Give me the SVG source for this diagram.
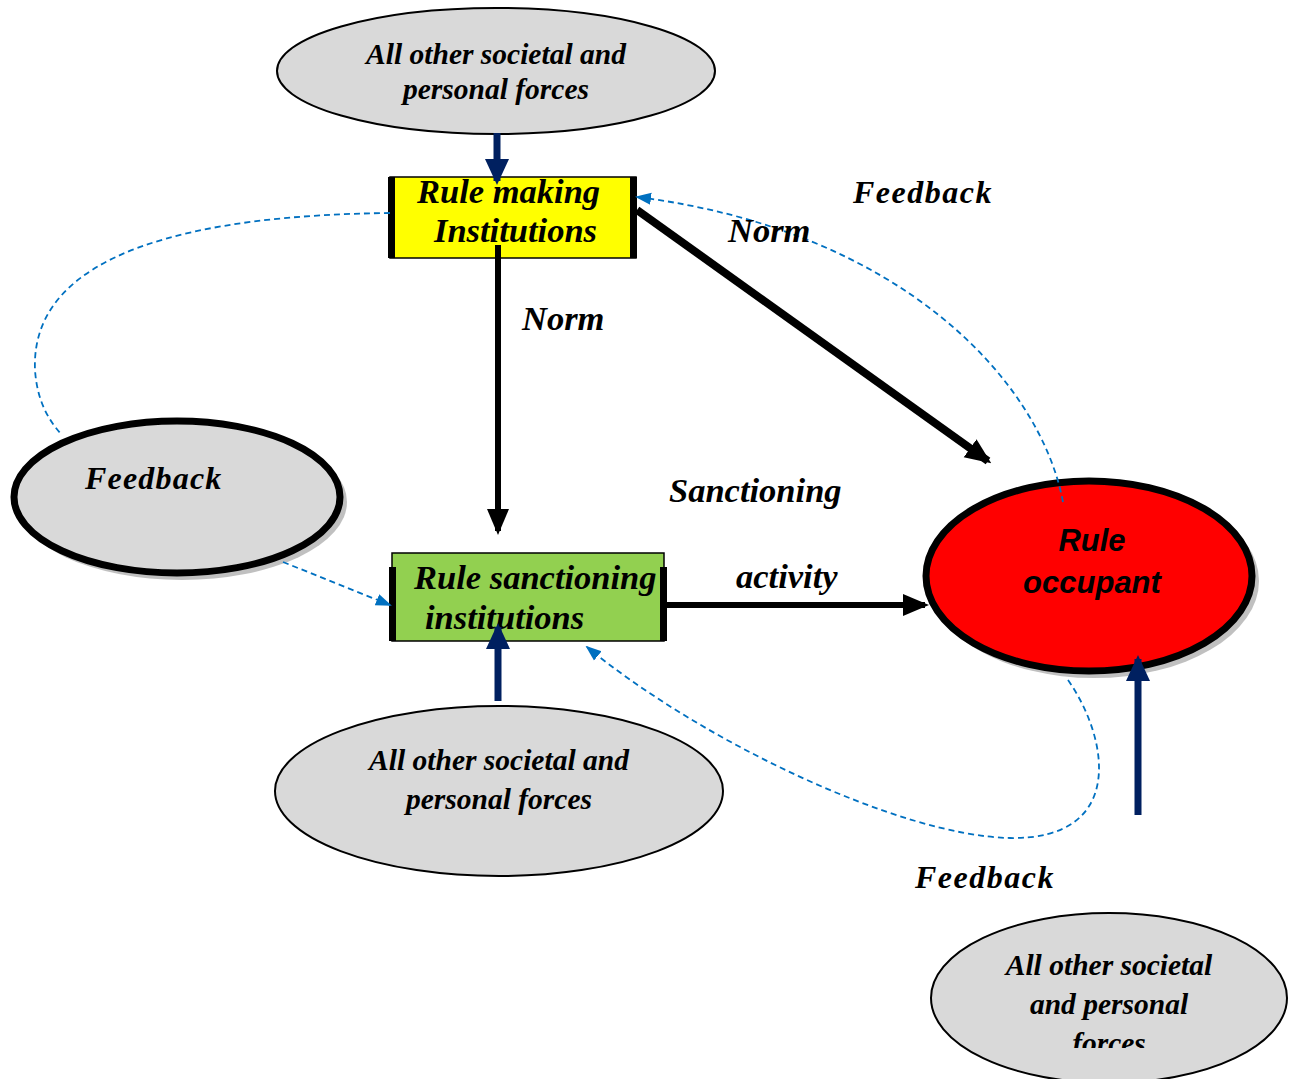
<svg xmlns="http://www.w3.org/2000/svg" width="1294" height="1079" viewBox="0 0 1294 1079">
<style>
.t{font-family:"Liberation Serif","Times New Roman",serif;font-weight:bold;font-style:italic;fill:#000}
.force{fill:#d9d9d9;stroke:#000;stroke-width:2}
.shadow{fill:#b0b0b0;opacity:0.8}
.dash{fill:none;stroke:#0070c0;stroke-width:1.8;stroke-dasharray:6,4}
.blk{stroke:#000;fill:none}
.navy{stroke:#002060;stroke-width:7;fill:none}
.ro{font-family:"Liberation Sans",Arial,sans-serif;font-weight:bold;font-style:italic;font-size:31px}
</style>
<defs>
<marker id="abk" markerWidth="26" markerHeight="26" refX="22" refY="13" orient="auto" markerUnits="userSpaceOnUse" viewBox="0 0 26 26"><path d="M0,2 L26,13 L0,24 z" fill="#000"/></marker>
<marker id="anv" markerWidth="26" markerHeight="26" refX="22" refY="13" orient="auto" markerUnits="userSpaceOnUse" viewBox="0 0 26 26"><path d="M0,1 L26,13 L0,25 z" fill="#002060"/></marker>
<marker id="abl" markerWidth="16" markerHeight="16" refX="14" refY="8" orient="auto" markerUnits="userSpaceOnUse" viewBox="0 0 16 16"><path d="M0,2 L16,8 L0,14 z" fill="#0070c0"/></marker>
<clipPath id="clipBR"><rect x="900" y="900" width="394" height="148"/></clipPath>
</defs>

<g id="forces-top">
<ellipse class="force" cx="496" cy="71" rx="219" ry="63"/>
<text class="t" font-size="29.5" text-anchor="middle" x="496" y="64">All other societal and</text>
<text class="t" font-size="29.5" text-anchor="middle" x="496" y="99">personal forces</text>
</g>

<g id="rule-making">
<rect x="390" y="177" width="246" height="81" fill="#ffff00" stroke="#000" stroke-width="1.5"/>
<rect x="388" y="177" width="7" height="81" fill="#000"/>
<rect x="630" y="177" width="7" height="81" fill="#000"/>
<text class="t" font-size="34.5" x="417" y="203">Rule making</text>
<text class="t" font-size="34.5" x="434" y="242">Institutions</text>
</g>

<g id="feedback-left">
<ellipse class="shadow" cx="182" cy="502" rx="165" ry="78"/>
<ellipse cx="177" cy="497" rx="163" ry="76" fill="#d9d9d9" stroke="#000" stroke-width="7"/>
<text class="t" font-size="32" letter-spacing="1.2" x="85" y="489">Feedback</text>
</g>

<g id="rule-sanctioning">
<rect x="392" y="553" width="272" height="88" fill="#92d050" stroke="#000" stroke-width="1.5"/>
<rect x="389" y="567" width="7" height="74" fill="#000"/>
<rect x="660" y="567" width="7" height="74" fill="#000"/>
<text class="t" font-size="34.5" x="414" y="589">Rule sanctioning</text>
<text class="t" font-size="34.5" x="425" y="629">institutions</text>
</g>

<g id="rule-occupant">
<ellipse class="shadow" cx="1094" cy="581" rx="165" ry="97"/>
<ellipse cx="1089" cy="576" rx="163" ry="95" fill="#ff0000" stroke="#000" stroke-width="7"/>
<text class="ro" text-anchor="middle" x="1092" y="551">Rule</text>
<text class="ro" text-anchor="middle" x="1092" y="593">occupant</text>
</g>

<g id="forces-bottom">
<ellipse class="force" cx="499" cy="791" rx="224" ry="85"/>
<text class="t" font-size="29.5" text-anchor="middle" x="499" y="770">All other societal and</text>
<text class="t" font-size="29.5" text-anchor="middle" x="499" y="809">personal forces</text>
</g>

<g id="forces-right">
<ellipse class="force" cx="1109" cy="998" rx="178" ry="85"/>
<g clip-path="url(#clipBR)">
<text class="t" font-size="29.5" text-anchor="middle" x="1109" y="975">All other societal</text>
<text class="t" font-size="29.5" text-anchor="middle" x="1109" y="1014">and personal</text>
<text class="t" font-size="29.5" text-anchor="middle" x="1109" y="1053">forces</text>
</g>
</g>

<g id="connectors">
<path class="dash" d="M390,213 C200,215 30,250 35,370 C37,400 48,420 62,435"/>
<path class="dash" d="M1063,502 C1040,380 900,230 637,197" marker-end="url(#abl)"/>
<path class="dash" d="M283,562 L390,605" marker-end="url(#abl)"/>
<path class="dash" d="M1068,680 C1110,740 1125,840 1010,838 C900,836 700,740 587,647" marker-end="url(#abl)"/>
<line class="navy" x1="497" y1="133" x2="497" y2="181" marker-end="url(#anv)"/>
<line class="blk" stroke-width="6" x1="498" y1="245" x2="498" y2="531" marker-end="url(#abk)"/>
<line class="blk" stroke-width="8" x1="637" y1="210" x2="988" y2="461" marker-end="url(#abk)"/>
<line class="blk" stroke-width="6" x1="667" y1="605" x2="925" y2="605" marker-end="url(#abk)"/>
<line class="navy" x1="498" y1="701" x2="498" y2="627" marker-end="url(#anv)"/>
<line class="navy" x1="1138" y1="815" x2="1138" y2="659" marker-end="url(#anv)"/>
</g>

<g id="labels">
<text class="t" font-size="34.5" x="522" y="330">Norm</text>
<text class="t" font-size="34.5" x="728" y="242">Norm</text>
<text class="t" font-size="32" letter-spacing="1.5" x="853" y="203">Feedback</text>
<text class="t" font-size="34.5" x="669" y="502">Sanctioning</text>
<text class="t" font-size="34.5" x="736" y="588">activity</text>
<text class="t" font-size="32" letter-spacing="1.5" x="915" y="888">Feedback</text>
</g>
</svg>
